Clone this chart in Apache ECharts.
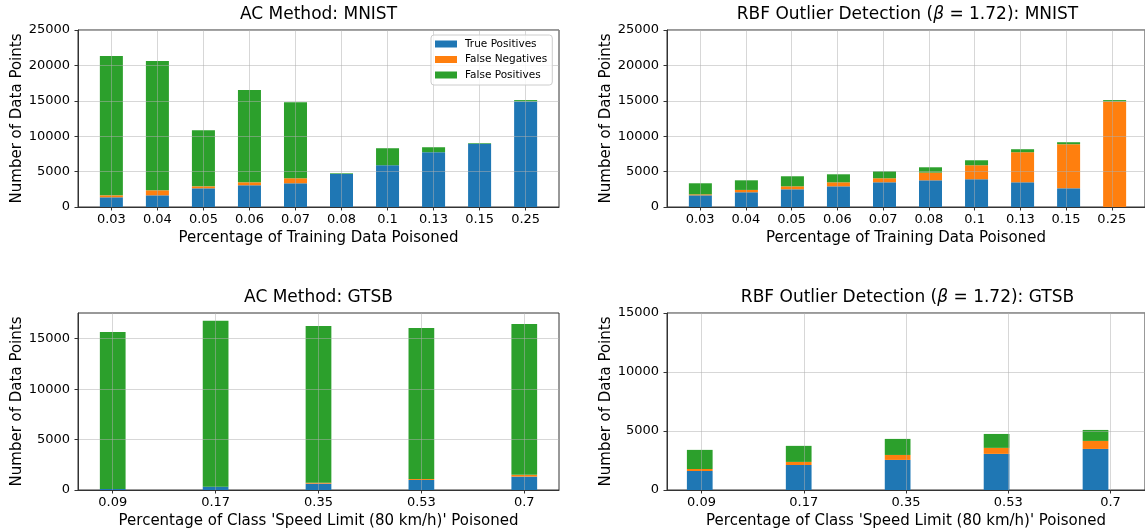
<!DOCTYPE html>
<html>
<head>
<meta charset="utf-8">
<title>Poisoning detection results</title>
<script src="https://cdn.jsdelivr.net/npm/echarts@6/dist/echarts.min.js"></script>
<style>
  html, body { margin: 0; padding: 0; background: #ffffff; }
  #chart { width: 1145px; height: 531px; }
</style>
</head>
<body>
<div id="chart"></div>
<script>
// Categories (x tick labels)
const mnistCats = ['0.03', '0.04', '0.05', '0.06', '0.07', '0.08', '0.1', '0.13', '0.15', '0.25'];
const gtsbCats = ['0.09', '0.17', '0.35', '0.53', '0.7'];

// AC method, MNIST
const acMnistTP = [1370, 1650, 2640, 3070, 3350, 4670, 5900, 7740, 8920, 14910];
const acMnistFN = [280, 710, 280, 420, 710, 0, 0, 0, 0, 0];
const acMnistFP = [19670, 18250, 7930, 13020, 10750, 90, 2400, 700, 90, 190];

// RBF outlier detection, MNIST
const rbfMnistTP = [1650, 2080, 2500, 2920, 3490, 3770, 3920, 3490, 2640, 0];
const rbfMnistFN = [140, 330, 420, 570, 570, 1090, 1980, 4250, 6230, 14900];
const rbfMnistFP = [1560, 1360, 1420, 1130, 990, 750, 700, 420, 280, 200];

// AC method, GTSB
const acGtsbTP = [100, 330, 630, 1000, 1330];
const acGtsbFN = [0, 0, 100, 100, 170];
const acGtsbFP = [15570, 16440, 15540, 14970, 14970];

// RBF outlier detection, GTSB
const rbfGtsbTP = [1610, 2120, 2550, 3060, 3480];
const rbfGtsbFN = [170, 260, 420, 510, 680];
const rbfGtsbFP = [1620, 1360, 1360, 1180, 930];

// y tick labels
const yTicksMnist = [0, 5000, 10000, 15000, 20000, 25000];
const yTicksAcGtsb = [0, 5000, 10000, 15000];
const yTicksRbfGtsb = [0, 5000, 10000, 15000];

const seriesNames = ['True Positives', 'False Negatives', 'False Positives'];
const seriesColors = ['#1f77b4', '#ff7f0e', '#2ca02c'];

const FONT = 'DejaVu Sans';
const SPINE = '#333333';
const GRIDLINE = 'rgba(176,176,176,0.5)';
const TICK_FS = 13;
const NAME_FS = 15;

// Panel frames: [left, top]; every frame is 481 x 177 px
const PANEL_W = 481, PANEL_H = 177;
const panels = [
  { left: 78, top: 30, cats: mnistCats, pad: 0.725, barFrac: 0.5 },
  { left: 667, top: 30, cats: mnistCats, pad: 0.725, barFrac: 0.5 },
  { left: 78, top: 313, cats: gtsbCats, pad: 0.3375, barFrac: 0.25 },
  { left: 667, top: 313, cats: gtsbCats, pad: 0.3375, barFrac: 0.25 }
];
panels.forEach(p => {
  p.unit = PANEL_W / (p.cats.length - 1 + 2 * p.pad);   // px per category step
  p.barWidth = p.barFrac * p.unit;
});

function idx(n) { return Array.from({ length: n }, (_, i) => i); }

// Outer grids carry the frame, the ticks and the grid lines;
// inner grids hold the stacked bars on a category axis.
const grids = [];
panels.forEach(p => {
  grids.push({ left: p.left, top: p.top, width: PANEL_W, height: PANEL_H,
    show: true, borderColor: SPINE, borderWidth: 1, backgroundColor: 'transparent' });
});
panels.forEach(p => {
  grids.push({ left: p.left + (p.pad - 0.5) * p.unit, top: p.top,
    width: p.cats.length * p.unit, height: PANEL_H, show: false });
});

function frameXAxis(gridIndex, p, name) {
  const ticks = idx(p.cats.length);
  return {
    type: 'value', gridIndex: gridIndex, z: 5,
    min: -p.pad, max: p.cats.length - 1 + p.pad,
    name: name, nameLocation: 'middle', nameGap: 24,
    nameTextStyle: { fontFamily: FONT, fontSize: NAME_FS, color: '#000' },
    axisLine: { show: true, onZero: false, lineStyle: { color: SPINE, width: 1 } },
    axisTick: { show: true, length: 3.5, customValues: ticks, lineStyle: { color: SPINE } },
    axisLabel: {
      customValues: ticks, margin: 6,
      fontFamily: FONT, fontSize: TICK_FS, color: '#000',
      formatter: v => p.cats[Math.round(v)]
    },
    splitLine: { show: true, lineStyle: { color: GRIDLINE, width: 1 } }
  };
}

function frameYAxis(gridIndex, ticks, max) {
  return {
    type: 'value', gridIndex: gridIndex, z: 5,
    min: 0, max: max,
    name: 'Number of Data Points', nameLocation: 'middle', nameGap: 49,
    nameTextStyle: { fontFamily: FONT, fontSize: NAME_FS, color: '#000' },
    axisLine: { show: true, onZero: false, lineStyle: { color: SPINE, width: 1 } },
    axisTick: { show: true, length: 3.5, customValues: ticks, lineStyle: { color: SPINE } },
    axisLabel: { customValues: ticks, margin: 8, fontFamily: FONT, fontSize: TICK_FS, color: '#000',
      formatter: v => String(v) },
    splitLine: { show: true, lineStyle: { color: GRIDLINE, width: 1 } }
  };
}

function barXAxis(gridIndex, cats) {
  return { type: 'category', gridIndex: gridIndex, data: cats, boundaryGap: true, show: false };
}
function barYAxis(gridIndex, max) {
  return { type: 'value', gridIndex: gridIndex, min: 0, max: max, show: false };
}

function stackSeries(axisIndex, groups, barWidth) {
  return groups.map((vals, k) => ({
    name: seriesNames[k],
    type: 'bar',
    xAxisIndex: axisIndex, yAxisIndex: axisIndex,
    stack: 'panel' + axisIndex,
    barWidth: barWidth,
    itemStyle: { color: seriesColors[k] },
    emphasis: { disabled: true },
    data: vals
  }));
}

const titleStyle = {
  fontFamily: FONT, fontSize: 17, fontWeight: 'normal', color: '#000',
  rich: { i: { fontFamily: FONT, fontSize: 17, fontStyle: 'italic', color: '#000' } }
};

function title(text, cx, top) {
  return { text: text, left: cx, top: top, textAlign: 'center', padding: 0, textStyle: titleStyle };
}

const xNameTop = 'Percentage of Training Data Poisoned';
const xNameBottom = "Percentage of Class 'Speed Limit (80 km/h)' Poisoned";
const yMax = [25000, 25000, 17550, 15000];

const option = {
  animation: false,
  backgroundColor: '#ffffff',
  textStyle: { fontFamily: FONT },
  title: [
    title('AC Method: MNIST', 318.5, 6),
    title('RBF Outlier Detection ({i|β} = 1.72): MNIST', 907.5, 6),
    title('AC Method: GTSB', 318.5, 289),
    title('RBF Outlier Detection ({i|β} = 1.72): GTSB', 907.5, 289)
  ],
  legend: {
    data: seriesNames,
    orient: 'vertical',
    left: 431, top: 35,
    padding: [3, 5, 4, 4],
    itemWidth: 22, itemHeight: 7, itemGap: 3.5,
    icon: 'rect',
    borderColor: '#cccccc', borderWidth: 1, borderRadius: 3,
    backgroundColor: 'rgba(255,255,255,0.8)',
    selectedMode: false,
    z: 10,
    textStyle: { fontFamily: FONT, fontSize: 10.5, color: '#000', lineHeight: 12, padding: [0, 0, 0, 3] }
  },
  grid: grids,
  xAxis: [
    frameXAxis(0, panels[0], xNameTop),
    frameXAxis(1, panels[1], xNameTop),
    frameXAxis(2, panels[2], xNameBottom),
    frameXAxis(3, panels[3], xNameBottom),
    barXAxis(4, mnistCats),
    barXAxis(5, mnistCats),
    barXAxis(6, gtsbCats),
    barXAxis(7, gtsbCats)
  ],
  yAxis: [
    frameYAxis(0, yTicksMnist, yMax[0]),
    frameYAxis(1, yTicksMnist, yMax[1]),
    frameYAxis(2, yTicksAcGtsb, yMax[2]),
    frameYAxis(3, yTicksRbfGtsb, yMax[3]),
    barYAxis(4, yMax[0]),
    barYAxis(5, yMax[1]),
    barYAxis(6, yMax[2]),
    barYAxis(7, yMax[3])
  ],
  series: [].concat(
    stackSeries(4, [acMnistTP, acMnistFN, acMnistFP], panels[0].barWidth),
    stackSeries(5, [rbfMnistTP, rbfMnistFN, rbfMnistFP], panels[1].barWidth),
    stackSeries(6, [acGtsbTP, acGtsbFN, acGtsbFP], panels[2].barWidth),
    stackSeries(7, [rbfGtsbTP, rbfGtsbFN, rbfGtsbFP], panels[3].barWidth)
  )
};

const chart = echarts.init(document.getElementById('chart'), null, { renderer: 'canvas' });
chart.setOption(option);
</script>
</body>
</html>
